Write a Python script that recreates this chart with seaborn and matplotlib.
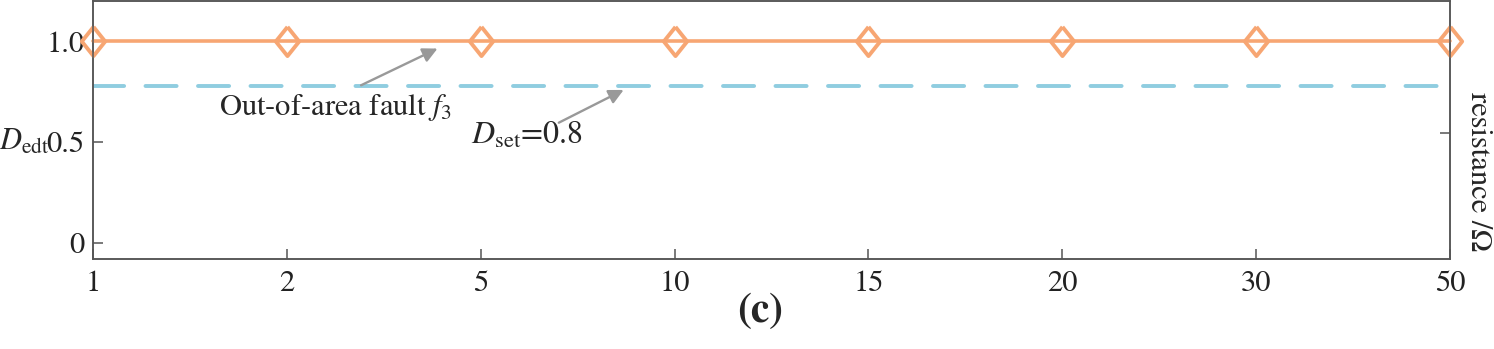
import matplotlib
matplotlib.use("Agg")
import matplotlib.pyplot as plt
import numpy as np
import pandas as pd
import seaborn as sns

# data
resistance = ["1", "2", "5", "10", "15", "20", "30", "50"]
d_edt = [1.0, 1.0, 1.0, 1.0, 1.0, 1.0, 1.0, 1.0]
d_set = 0.78
d_set_label = "0.8"

sns.set_theme(style="ticks")
plt.rcParams["font.family"] = ["STIXGeneral", "Liberation Serif", "DejaVu Serif"]
plt.rcParams["mathtext.fontset"] = "stix"

orange = "#F7A673"
blue = "#8FCDE0"
spine_c = "#555555"

df = pd.DataFrame({"resistance": resistance, "D": d_edt})

fig = plt.figure(figsize=(14.94, 3.49), dpi=100)
ax = fig.add_axes([93 / 1494, 1 - 259 / 349, (1450 - 93) / 1494, 258 / 349])

# threshold line
ax.axhline(d_set, color=blue, lw=2.8, dashes=(8, 5.5), dash_capstyle="round", zorder=2)

diamond = [(0, 1), (0.8, 0), (0, -1), (-0.8, 0), (0, 1)]
sns.pointplot(data=df, x="resistance", y="D", order=resistance, errorbar=None,
              color=orange, marker=diamond, markersize=21, markerfacecolor="none",
              markeredgewidth=2.8, linewidth=2.6, clip_on=False, ax=ax, zorder=3)

ax.set_xlim(0, len(resistance) - 1)
ax.set_ylim(-0.08, 1.2)
ax.set_yticks([0, 0.5, 1.0])
ax.set_yticklabels(["0", "0.5", "1.0"])
ax.set_xlabel("")
ax.set_ylabel(r"$D_{\mathrm{edt}}$", rotation=0, fontsize=22, ha="center", va="center")
ax.yaxis.set_label_coords(-0.051, 0.453)

ax.tick_params(axis="both", direction="in", length=7, width=1.1, color=spine_c,
               labelsize=22, pad=6, labelcolor="#222222")
ax.tick_params(axis="x", pad=8)
for s in ax.spines.values():
    s.set_color(spine_c)
    s.set_linewidth(1.1)

# right axis
ax2 = ax.twinx()
ax2.set_ylim(0, 1)
ax2.set_yticks([0.49])
ax2.set_yticklabels([])
ax2.tick_params(axis="y", direction="in", length=7, width=1.1, color=spine_c)
ax2.set_ylabel("resistance /Ω", rotation=270, fontsize=22, ha="center", va="center")
ax2.yaxis.set_label_coords(1.0206, 0.337)
for s in ax2.spines.values():
    s.set_color(spine_c)
    s.set_linewidth(1.1)

# annotations
arrow = dict(arrowstyle="-|>", color="#999999", lw=1.7, mutation_scale=22)
ax.annotate("", xy=(1.79, 0.97), xytext=(1.37, 0.776), arrowprops=arrow)
ax.text(1.253, 0.672, r"Out-of-area fault $f_3$", fontsize=22, ha="center", va="center")
ax.annotate("", xy=(2.75, 0.765), xytext=(2.39, 0.59), arrowprops=arrow)
ax.text(2.24, 0.53, r"$D_{\mathrm{set}}$=" + d_set_label, fontsize=23, ha="center", va="center")

fig.text(760 / 1494, 1 - 312 / 349, "(c)", fontsize=30, fontweight="bold", ha="center", va="center")

fig.savefig("out.png", dpi=100)
